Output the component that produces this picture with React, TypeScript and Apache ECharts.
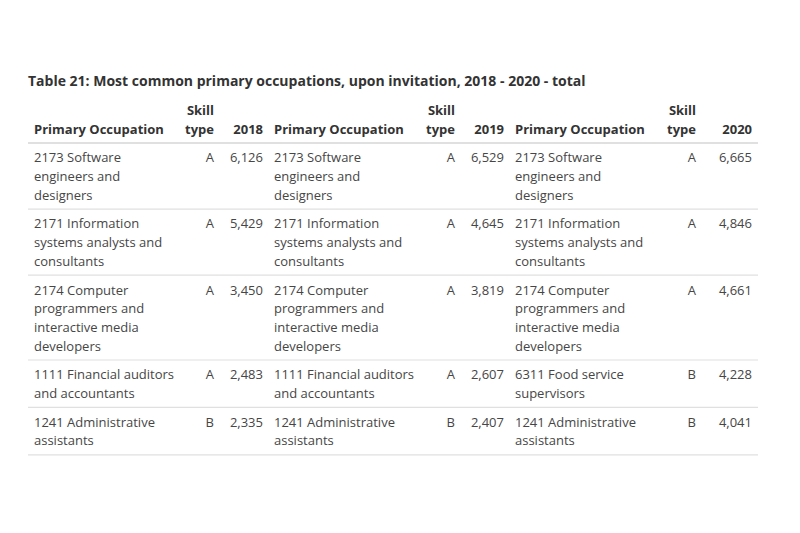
import React, { useEffect, useRef } from "react";
import * as echarts from "echarts";

const title = "Table 21: Most common primary occupations, upon invitation, 2018 - 2020 - total";
const headerOccupation = "Primary Occupation";
const headerSkill = "Skill\ntype";
const years = ["2018", "2019", "2020"];

const occupations2018 = [
  "2173 Software engineers and designers",
  "2171 Information systems analysts and consultants",
  "2174 Computer programmers and interactive media developers",
  "1111 Financial auditors and accountants",
  "1241 Administrative assistants",
];
const skill2018 = ["A", "A", "A", "A", "B"];
const values2018 = [6126, 5429, 3450, 2483, 2335];

const occupations2019 = [
  "2173 Software engineers and designers",
  "2171 Information systems analysts and consultants",
  "2174 Computer programmers and interactive media developers",
  "1111 Financial auditors and accountants",
  "1241 Administrative assistants",
];
const skill2019 = ["A", "A", "A", "A", "B"];
const values2019 = [6529, 4645, 3819, 2607, 2407];

const occupations2020 = [
  "2173 Software engineers and designers",
  "2171 Information systems analysts and consultants",
  "2174 Computer programmers and interactive media developers",
  "6311 Food service supervisors",
  "1241 Administrative assistants",
];
const skill2020 = ["A", "A", "A", "B", "B"];
const values2020 = [6665, 4846, 4661, 4228, 4041];

const FAMILY = "'Open Sans', sans-serif";
const BODY_FONT = `13px ${FAMILY}`;
const HEAD_FONT = `bold 13px ${FAMILY}`;
const TITLE_FONT = `bold 14px ${FAMILY}`;

function wrapText(text: string, font: string, width: number): string[] {
  const ctx = document.createElement("canvas").getContext("2d")!;
  ctx.font = font;
  const words = text.split(" ");
  const lines: string[] = [];
  let cur = "";
  for (const w of words) {
    const test = cur ? cur + " " + w : w;
    if (cur && ctx.measureText(test).width > width) {
      lines.push(cur);
      cur = w;
    } else {
      cur = test;
    }
  }
  if (cur) lines.push(cur);
  return lines;
}

function txt(x: number, y: number, text: string, font: string, fill: string, align: string, valign: string, lineHeight = 18.7) {
  return {
    type: "text",
    x,
    y,
    silent: true,
    style: {
      text,
      font,
      fill,
      align,
      textAlign: align,
      verticalAlign: valign,
      textVerticalAlign: valign,
      lineHeight,
    },
  };
}

function hline(y: number, x1: number, x2: number, color: string, w = 1) {
  return {
    type: "line",
    silent: true,
    shape: { x1, y1: y, x2, y2: y },
    style: { stroke: color, lineWidth: w },
  };
}

export default function App() {
  const ref = useRef<HTMLDivElement>(null);
  useEffect(() => {
    if (!ref.current) return;
    const chart = echarts.init(ref.current, undefined, { renderer: "svg" });

    const groups = [
      { occ: occupations2018, skill: skill2018, vals: values2018, year: years[0] },
      { occ: occupations2019, skill: skill2019, vals: values2019, year: years[1] },
      { occ: occupations2020, skill: skill2020, vals: values2020, year: years[2] },
    ];
    const occLeft = [34, 274, 515];
    const skillRight = [214, 455, 696];
    const valRight = [263, 504, 752];
    const wrapWidth = 146;
    const tableLeft = 28;
    const tableRight = 758;
    const LH = 18.7;
    const PAD = 5;
    const headerBottom = 143;
    const bodyColor = "#464646";
    const headColor = "#333333";
    const lineColor = "#e0e0e0";

    const elements: any[] = [];
    elements.push(txt(28, 80, title, TITLE_FONT, headColor, "left", "middle"));

    groups.forEach((g, gi) => {
      elements.push(txt(occLeft[gi], headerBottom - PAD, headerOccupation, HEAD_FONT, headColor, "left", "bottom", LH));
      elements.push(txt(skillRight[gi], headerBottom - PAD, headerSkill, HEAD_FONT, headColor, "right", "bottom", LH));
      elements.push(txt(valRight[gi], headerBottom - PAD, g.year, HEAD_FONT, headColor, "right", "bottom", LH));
    });
    elements.push(hline(headerBottom, tableLeft, tableRight, "#d6d6d6", 1.5));

    let top = headerBottom;
    const nRows = occupations2018.length;
    for (let r = 0; r < nRows; r++) {
      const wrapped = groups.map((g) => wrapText(g.occ[r], BODY_FONT, wrapWidth));
      const nLines = Math.max(...wrapped.map((w) => w.length));
      groups.forEach((g, gi) => {
        elements.push(txt(occLeft[gi], top + PAD, wrapped[gi].join("\n"), BODY_FONT, bodyColor, "left", "top", LH));
        elements.push(txt(skillRight[gi], top + PAD, g.skill[r], BODY_FONT, bodyColor, "right", "top", LH));
        elements.push(txt(valRight[gi], top + PAD, g.vals[r].toLocaleString("en-US"), BODY_FONT, bodyColor, "right", "top", LH));
      });
      top = top + PAD * 2 + nLines * LH;
      elements.push(hline(top, tableLeft, tableRight, lineColor, 1.2));
    }

    chart.setOption({
      animation: false,
      backgroundColor: "#ffffff",
      graphic: { elements },
    });
    return () => chart.dispose();
  }, []);
  return <div ref={ref} style={{ position: "fixed", left: 0, top: 0, width: 800, height: 533 }} />;
}
